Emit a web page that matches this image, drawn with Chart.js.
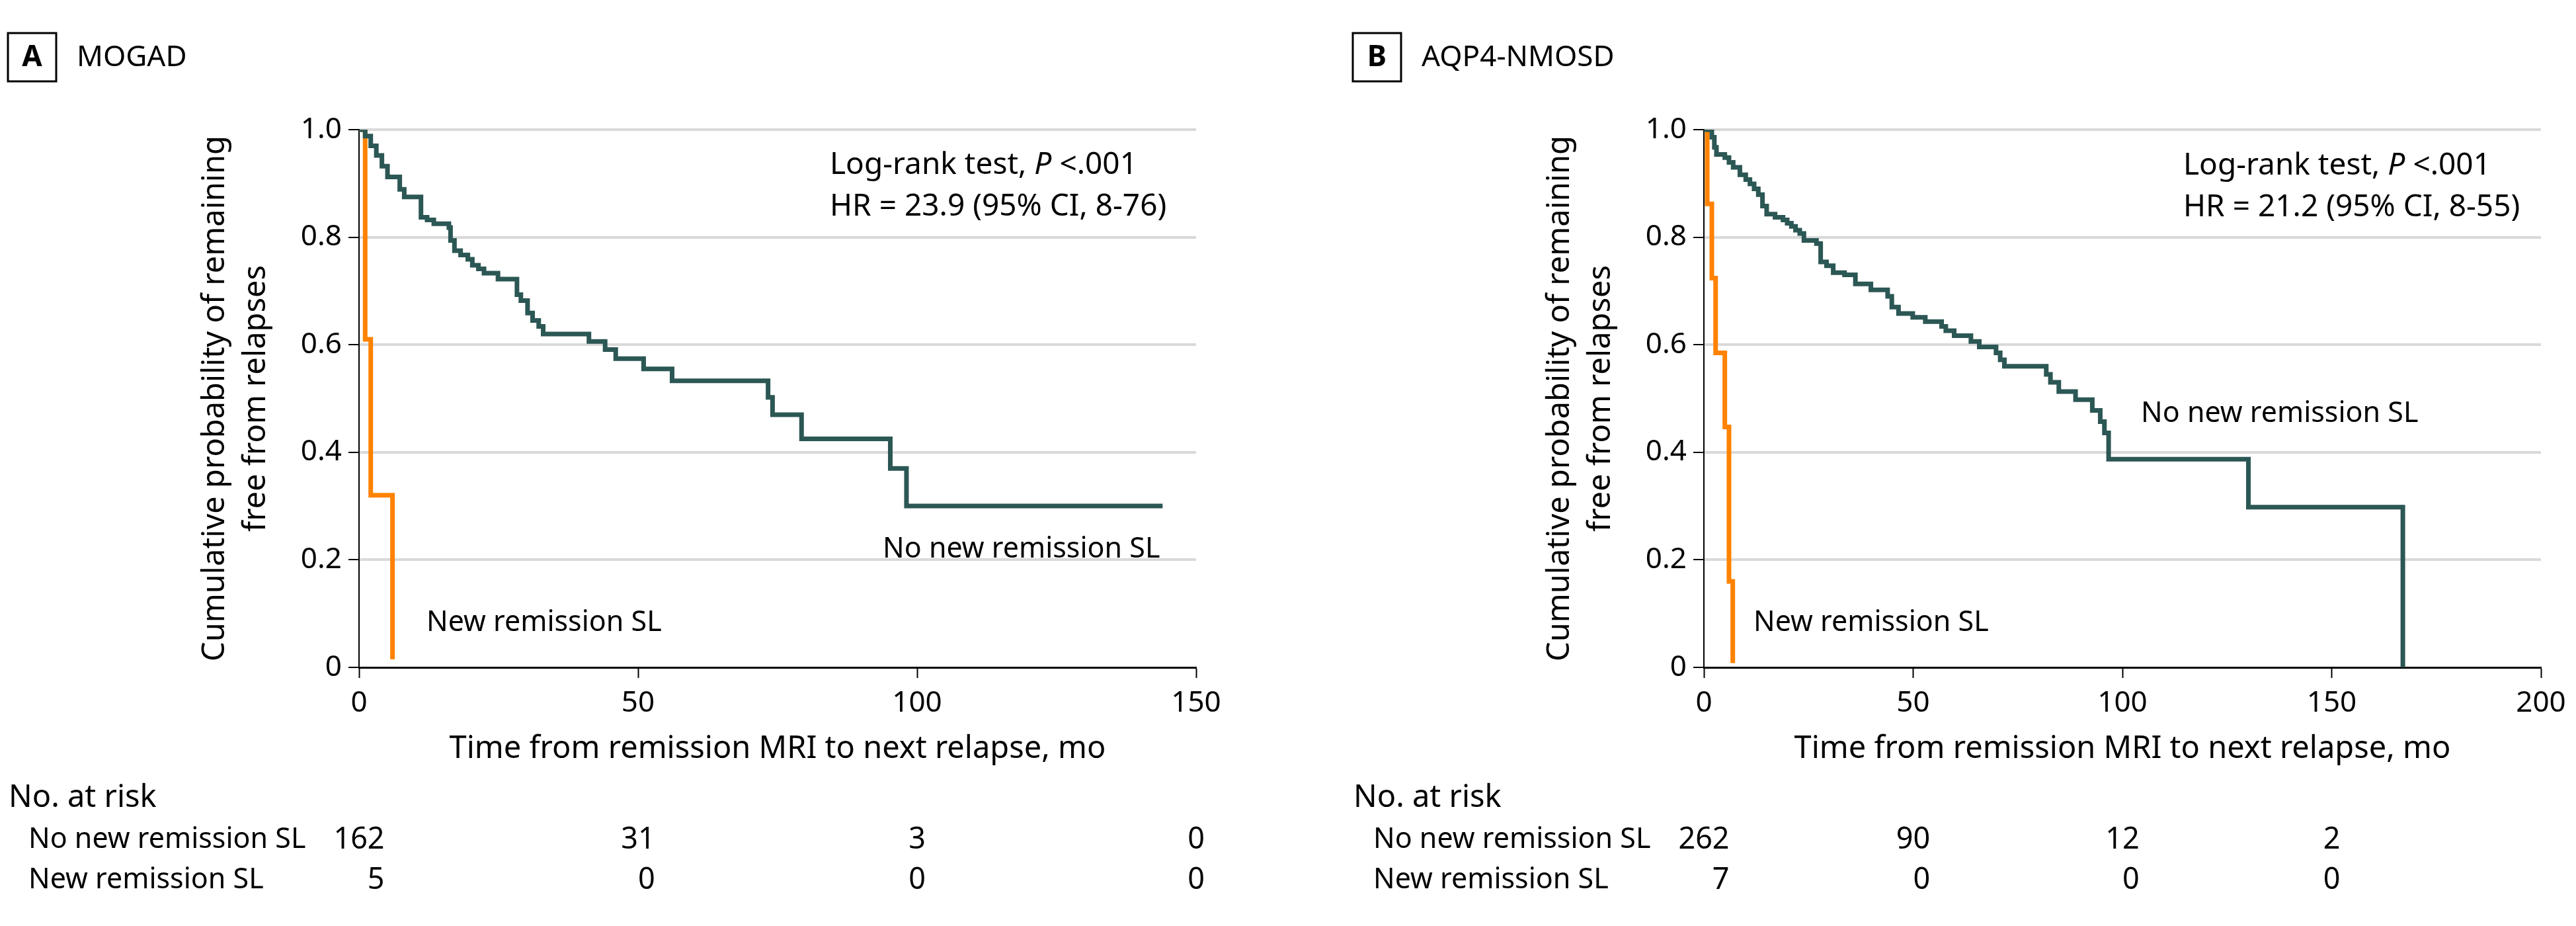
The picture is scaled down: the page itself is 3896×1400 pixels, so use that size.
<!DOCTYPE html>
<html lang="en">
<head>
  <meta charset="UTF-8">
  <title>Relapse-free probability by remission SL</title>
  <script src="https://cdn.jsdelivr.net/npm/chart.js@4.4.0/dist/chart.umd.min.js"></script>
  <style>
    html, body { margin: 0; padding: 0; background: #fff; }
    #wrap { position: relative; width: 3896px; height: 1400px; }
    canvas { position: absolute; top: 0; }
  </style>
</head>
<body>
  <div id="wrap">
    <canvas id="chartA" width="1948" height="1400" style="left:0"></canvas>
    <canvas id="chartB" width="1948" height="1400" style="left:1948px"></canvas>
  </div>

  <script>
    // Panel A - MOGAD
    const mogadNoTimes = [0, 1.1, 2.1, 3.1, 4.1, 5.1, 7.3, 8.1, 11.1, 12.2, 13.4, 16.1, 16.4, 17.1, 18.2, 19.5, 20.3, 21.4, 22.4, 24.9, 28.3, 29.0, 30.2, 31.1, 32.2, 33.0, 41.2, 44.1, 46.0, 51.0, 56.1, 73.3, 74.1, 79.3, 95.2, 98.1, 144];
    const mogadNoSurv = [1, 0.988, 0.970, 0.952, 0.932, 0.912, 0.889, 0.875, 0.837, 0.832, 0.825, 0.818, 0.794, 0.775, 0.767, 0.759, 0.748, 0.741, 0.733, 0.722, 0.693, 0.682, 0.659, 0.645, 0.634, 0.620, 0.606, 0.591, 0.574, 0.555, 0.533, 0.502, 0.470, 0.425, 0.370, 0.300, 0.300];
    const mogadNewTimes = [0, 1.1, 2.1, 6.0];
    const mogadNewSurv = [1, 0.61, 0.32, 0.015];
    const mogadRiskTimes = [0, 50, 100, 150];
    const mogadRiskNo = [162, 31, 3, 0];
    const mogadRiskNew = [5, 0, 0, 0];

    // Panel B - AQP4-NMOSD
    const nmosdNoTimes = [0, 1.9, 2.5, 3.0, 5.0, 6.0, 7.0, 8.6, 10.0, 11.0, 12.0, 13.0, 14.0, 15.0, 17.0, 18.9, 19.9, 20.9, 21.9, 22.9, 23.9, 26.9, 27.9, 29.3, 30.9, 33.6, 36.2, 39.9, 43.9, 44.9, 46.5, 49.9, 52.9, 56.8, 57.8, 59.8, 63.8, 65.8, 69.8, 70.8, 71.8, 81.8, 82.8, 84.8, 88.8, 92.8, 94.7, 95.7, 96.7, 130.1, 167.0];
    const nmosdNoSurv = [1, 0.986, 0.967, 0.954, 0.948, 0.939, 0.930, 0.916, 0.907, 0.899, 0.890, 0.879, 0.858, 0.843, 0.837, 0.832, 0.826, 0.820, 0.813, 0.807, 0.794, 0.788, 0.754, 0.747, 0.734, 0.730, 0.713, 0.702, 0.690, 0.670, 0.658, 0.651, 0.643, 0.634, 0.626, 0.617, 0.606, 0.596, 0.585, 0.572, 0.560, 0.545, 0.530, 0.513, 0.498, 0.478, 0.457, 0.436, 0.387, 0.298, 0];
    const nmosdNewTimes = [0, 0.8, 1.9, 2.8, 5.0, 6.0, 6.9];
    const nmosdNewSurv = [1, 0.862, 0.724, 0.585, 0.447, 0.16, 0.008];
    const nmosdRiskTimes = [0, 50, 100, 150];
    const nmosdRiskNo = [262, 90, 12, 2];
    const nmosdRiskNew = [7, 0, 0, 0];

    const yTicks = [0, 0.2, 0.4, 0.6, 0.8, 1.0];

    const TEAL = '#2b5754';
    const ORANGE = '#ff8200';
    const FONT = '"Noto Sans", "Open Sans", sans-serif';

    function toPoints(times, surv) {
      return times.map((t, i) => ({ x: t, y: surv[i] }));
    }

    function setFont(ctx, size, weight, style) {
      ctx.font = (style || 'normal') + ' ' + (weight || 'normal') + ' ' + size + 'px ' + FONT;
    }

    function drawText(ctx, str, x, y, size, align, weight, style) {
      setFont(ctx, size, weight, style);
      ctx.textAlign = align || 'left';
      ctx.textBaseline = 'middle';
      ctx.fillStyle = '#000';
      ctx.fillText(str, x, y);
    }

    function makePanel(id, p) {
      const extras = {
        id: 'extras',
        afterDraw(chart) {
          const ctx = chart.ctx;
          const area = chart.chartArea;
          const xs = chart.scales.x;
          const pl = area.left;
          ctx.save();

          // panel letter box + title
          ctx.strokeStyle = '#000';
          ctx.lineWidth = 3;
          ctx.strokeRect(pl - 531, 50, 73, 73);
          drawText(ctx, p.letter, pl - 531 + 36.5, 87, 44, 'center', 'bold');
          drawText(ctx, p.title, pl - 427, 87, 44, 'left');

          // y axis title, two lines
          const yMid = (area.top + area.bottom) / 2;
          ['Cumulative probability of remaining', 'free from relapses'].forEach((line, i) => {
            ctx.save();
            ctx.translate(pl - 217 + i * 62, yMid);
            ctx.rotate(-Math.PI / 2);
            drawText(ctx, line, 0, 0, 47, 'center');
            ctx.restore();
          });

          // x axis title
          drawText(ctx, 'Time from remission MRI to next relapse, mo', (area.left + area.right) / 2, 1133, 47, 'center');

          // log-rank annotation
          let x = p.statX;
          const first = 'Log-rank test, ';
          drawText(ctx, first, x, p.statY, 46, 'left');
          x += ctx.measureText(first).width;
          drawText(ctx, 'P', x, p.statY, 46, 'left', 'normal', 'italic');
          x += ctx.measureText('P ').width;
          drawText(ctx, '<.001', x, p.statY, 46, 'left');
          drawText(ctx, p.hr, p.statX, p.statY + 63, 46, 'left');

          // curve labels
          drawText(ctx, 'No new remission SL', p.noLabel[0], p.noLabel[1], 43, 'left');
          drawText(ctx, 'New remission SL', p.newLabel[0], p.newLabel[1], 43, 'left');

          // number at risk table
          drawText(ctx, 'No. at risk', pl - 530, 1207, 47, 'left');
          drawText(ctx, 'No new remission SL', pl - 500, 1270, 43, 'left');
          drawText(ctx, 'New remission SL', pl - 500, 1331, 43, 'left');
          p.riskTimes.forEach((t, i) => {
            const a = String(p.riskNo[i]);
            const b = String(p.riskNew[i]);
            setFont(ctx, 45);
            const w = Math.max(ctx.measureText(a).width, ctx.measureText(b).width);
            const rx = xs.getPixelForValue(t) + w / 2;
            drawText(ctx, a, rx, 1270, 45, 'right');
            drawText(ctx, b, rx, 1331, 45, 'right');
          });

          ctx.restore();
        }
      };

      return new Chart(document.getElementById(id), {
        type: 'line',
        data: {
          datasets: [
            {
              label: 'No new remission SL',
              data: toPoints(p.noTimes, p.noSurv),
              borderColor: TEAL,
              borderWidth: 7,
              stepped: true,
              pointRadius: 0,
              fill: false
            },
            {
              label: 'New remission SL',
              data: toPoints(p.newTimes, p.newSurv),
              borderColor: ORANGE,
              borderWidth: 7,
              stepped: true,
              pointRadius: 0,
              fill: false
            }
          ]
        },
        options: {
          responsive: false,
          animation: false,
          layout: { padding: { top: 196, right: 1948 - p.plotRight, left: 0, bottom: 0 } },
          plugins: {
            legend: { display: false },
            tooltip: { enabled: false }
          },
          scales: {
            x: {
              type: 'linear',
              min: 0,
              max: p.xMax,
              afterFit: s => { s.height = 1400 - 1009; },
              afterBuildTicks: s => { s.ticks = p.xTicks.map(v => ({ value: v })); },
              grid: { drawOnChartArea: false, drawTicks: true, tickLength: 16, tickColor: '#000', tickWidth: 2 },
              border: { color: '#000', width: 3 },
              ticks: { padding: 12, color: '#000', font: { family: FONT, size: 44 } }
            },
            y: {
              type: 'linear',
              min: 0,
              max: 1,
              afterFit: s => { s.width = p.plotLeft; },
              afterBuildTicks: s => { s.ticks = yTicks.map(v => ({ value: v })); },
              grid: {
                color: c => (c.tick && c.tick.value === 0) ? 'rgba(0,0,0,0)' : '#d9d9d9',
                lineWidth: 4,
                drawTicks: true,
                tickLength: 16,
                tickColor: '#000',
                tickWidth: 2
              },
              border: { color: '#000', width: 2 },
              ticks: {
                padding: 10,
                color: '#000',
                font: { family: FONT, size: 44 },
                callback: v => v === 0 ? '0' : v.toFixed(1)
              }
            }
          }
        },
        plugins: [extras]
      });
    }

    makePanel('chartA', {
      letter: 'A', title: 'MOGAD',
      plotLeft: 543, plotRight: 1809, xMax: 150, xTicks: [0, 50, 100, 150],
      noTimes: mogadNoTimes, noSurv: mogadNoSurv,
      newTimes: mogadNewTimes, newSurv: mogadNewSurv,
      riskTimes: mogadRiskTimes, riskNo: mogadRiskNo, riskNew: mogadRiskNew,
      statX: 1255, statY: 250, hr: 'HR = 23.9 (95% CI, 8-76)',
      noLabel: [1335, 831], newLabel: [645, 942]
    });

    makePanel('chartB', {
      letter: 'B', title: 'AQP4-NMOSD',
      plotLeft: 629, plotRight: 1895, xMax: 200, xTicks: [0, 50, 100, 150, 200],
      noTimes: nmosdNoTimes, noSurv: nmosdNoSurv,
      newTimes: nmosdNewTimes, newSurv: nmosdNewSurv,
      riskTimes: nmosdRiskTimes, riskNo: nmosdRiskNo, riskNew: nmosdRiskNew,
      statX: 1354, statY: 251, hr: 'HR = 21.2 (95% CI, 8-55)',
      noLabel: [1290, 626], newLabel: [704, 942]
    });
  </script>
</body>
</html>
